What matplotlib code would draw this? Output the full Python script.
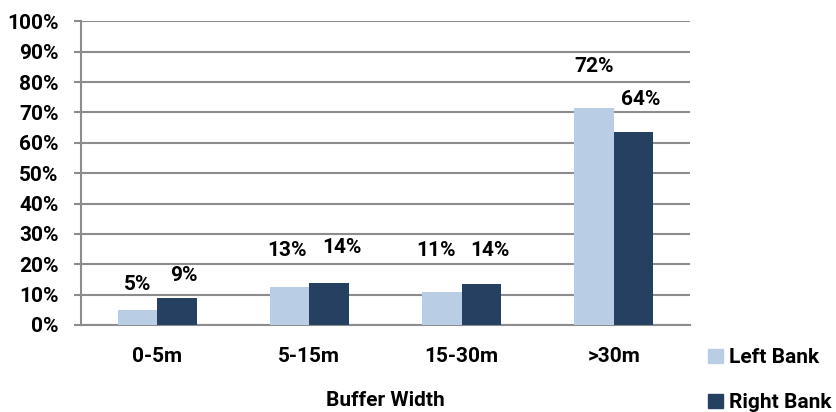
import numpy as np
import matplotlib.pyplot as plt
from matplotlib.patches import Patch

# Buffer width categories and share of bank length (%)
categories = ['0-5m', '5-15m', '15-30m', '>30m']
left_bank = [4.8, 12.6, 10.7, 71.6]
right_bank = [8.9, 13.8, 13.6, 63.6]
series_names = ['Left Bank', 'Right Bank']

colors = ['#B9CDE5', '#264062']
grid_color = '#8C8C8C'
fs = 15

plt.rcParams['font.family'] = ['Roboto', 'DejaVu Sans']
plt.rcParams['font.weight'] = 'bold'

fig = plt.figure(figsize=(8.36, 4.12), dpi=100)
ax = fig.add_axes([0.0969, 0.2112, 0.7285, 0.7371])

x = np.arange(len(categories))
w = 0.26
bars_l = ax.bar(x - w / 2, left_bank, w, color=colors[0], zorder=3)
bars_r = ax.bar(x + w / 2, right_bank, w, color=colors[1], zorder=3)

# data labels (hand-placed in the original, offsets in pixels)
off_l = [(0, 26), (-3, 36), (-6, 42), (0, 41)]
off_r = [(7, 22), (13, 36), (8, 33), (7, 32)]
for bars, vals, offs in [(bars_l, left_bank, off_l), (bars_r, right_bank, off_r)]:
    for b, v, (dx, dy) in zip(bars, vals, offs):
        ax.annotate(f'{v:.0f}%', (b.get_x() + b.get_width() / 2, v),
                    xytext=(dx, dy), textcoords='offset pixels',
                    ha='center', va='center', fontsize=fs,
                    fontweight='bold', color='black')

ax.set_xlim(-0.5, len(categories) - 0.5)
ax.set_ylim(0, 100)
ax.set_yticks(range(0, 101, 10))
ax.set_yticklabels([f'{t}%' for t in range(0, 101, 10)])
ax.set_xticks(x)
ax.set_xticklabels(categories)

ax.yaxis.grid(True, color=grid_color, linewidth=1.5, zorder=0)
ax.set_axisbelow(True)
for s in ['top', 'right']:
    ax.spines[s].set_visible(False)
for s in ['left', 'bottom']:
    ax.spines[s].set_color(grid_color)
    ax.spines[s].set_linewidth(1.5)

ax.tick_params(axis='y', length=5, width=1.5, color=grid_color, pad=11,
               labelsize=fs)
ax.tick_params(axis='x', length=0, pad=16, labelsize=fs)
for lab in ax.get_xticklabels() + ax.get_yticklabels():
    lab.set_fontweight('bold')

ax.set_xlabel('Buffer Width', fontsize=fs, fontweight='bold', labelpad=18)

handles = [Patch(color=c) for c in colors]
fig.legend(handles, series_names, loc='upper left',
           bbox_to_anchor=(0.835, 0.180), frameon=False,
           handlelength=0.7, handleheight=0.7, handletextpad=0.3,
           labelspacing=1.25, borderpad=0,
           prop={'size': fs, 'weight': 'bold'})

fig.savefig('out.png', dpi=100)
